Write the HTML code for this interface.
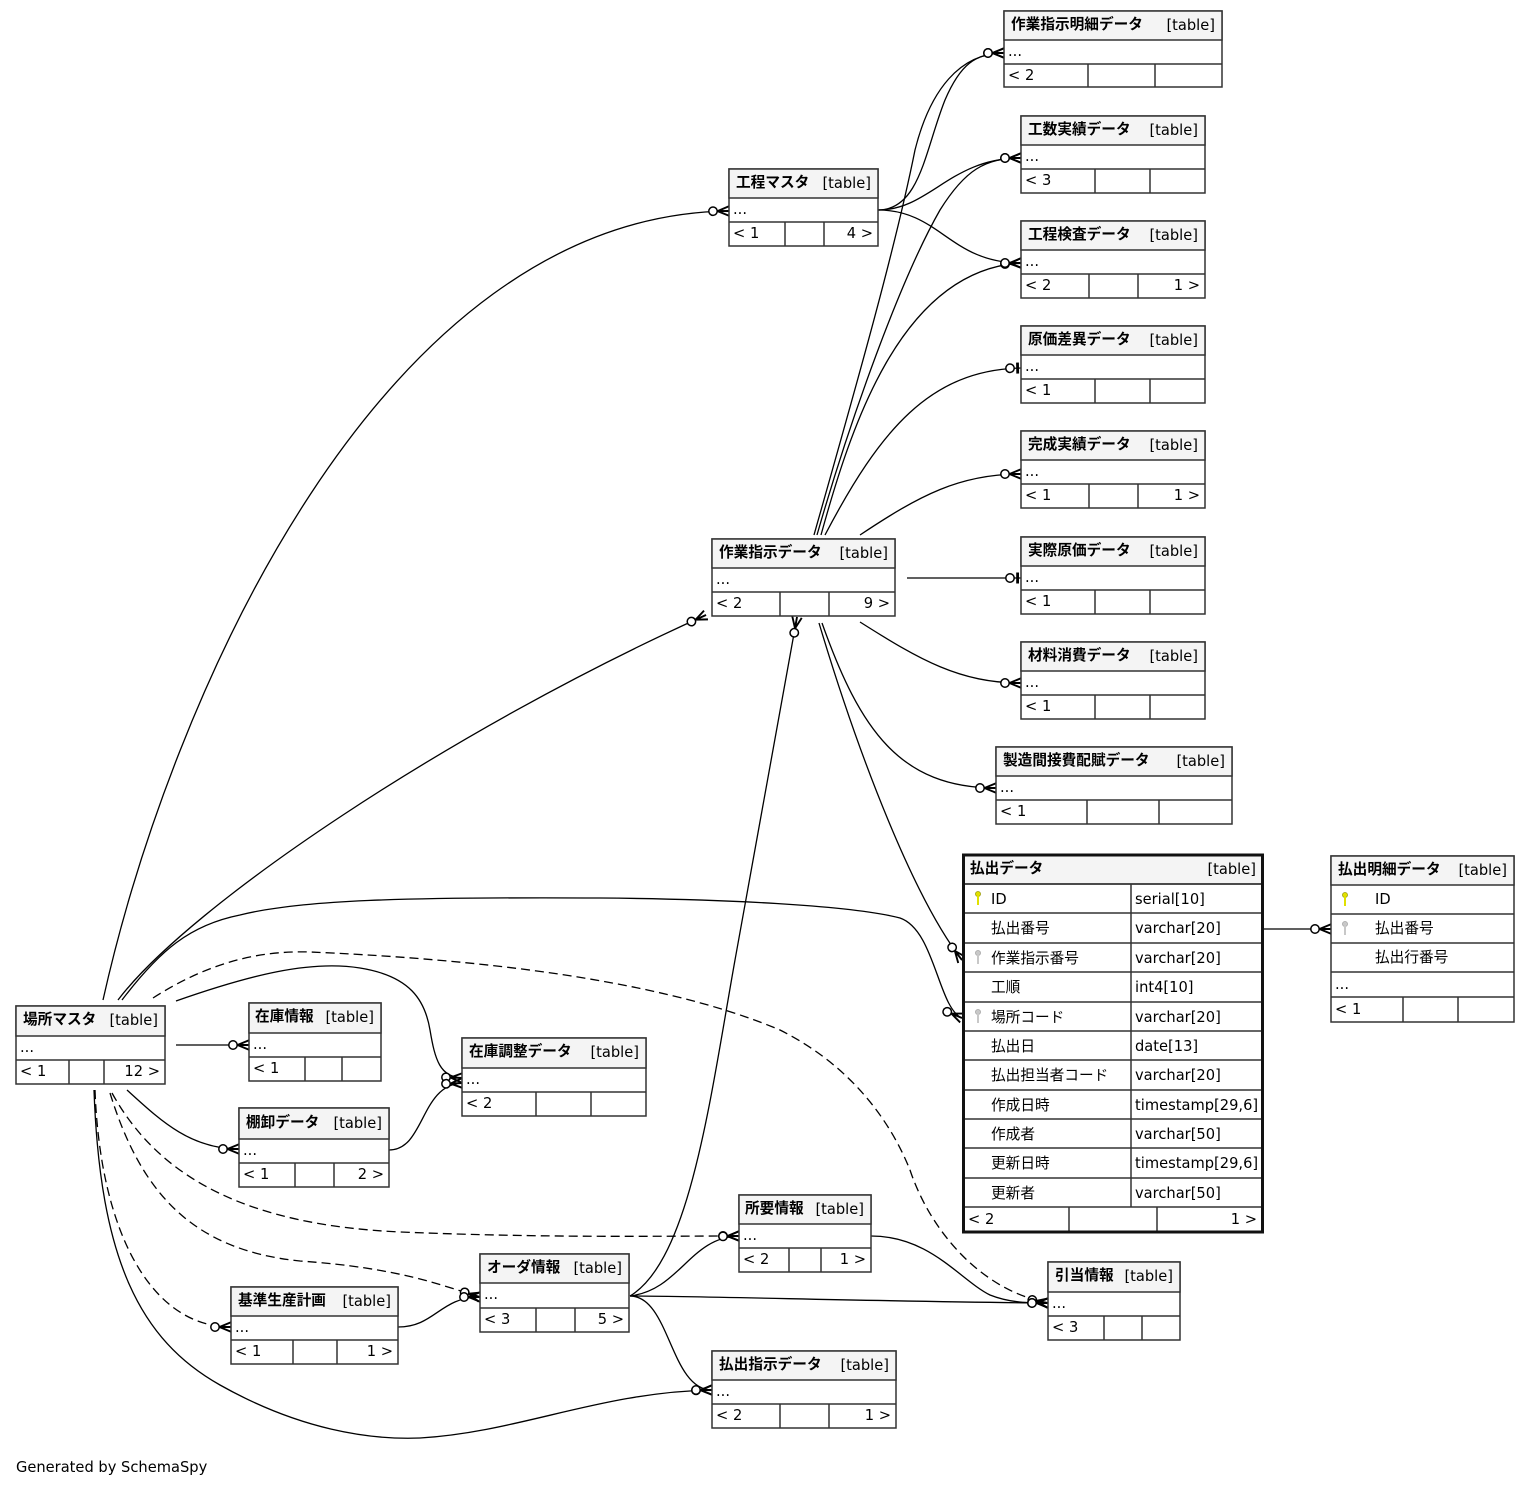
<!DOCTYPE html>
<html><head><meta charset="utf-8"><style>
html,body{margin:0;padding:0;background:#fff;}
svg{display:block;}
text{font-family:"DejaVu Sans","Noto Sans CJK JP",sans-serif;font-size:11pt;fill:#000;}
.b{font-weight:bold;}
.e{text-anchor:end;}
.tb{fill:#fff;stroke:#333;stroke-width:1.5;}
.hd{fill:#f4f4f4;stroke:#333;stroke-width:1.5;}
.tk{fill:none;stroke:#111;stroke-width:3;}
line{stroke:#333;stroke-width:1.5;}
.ed{fill:none;stroke:#000;stroke-width:1.3;}
.da{stroke-dasharray:9,5;}
</style></head><body>
<svg xmlns="http://www.w3.org/2000/svg" width="1531" height="1487" viewBox="0 0 1531 1487">
<defs>
<marker id="cf" viewBox="-24 -8 26 16" refX="0" refY="0" markerWidth="26" markerHeight="16" markerUnits="userSpaceOnUse" orient="auto" overflow="visible">
<path d="M-11.5,0L0,-4.8M-11.5,0L0,0M-11.5,0L0,4.8" fill="none" stroke="#000" stroke-width="1.9"/>
<circle cx="-16" cy="0" r="4.2" fill="#fff" stroke="#000" stroke-width="1.5"/>
</marker>
<marker id="to" viewBox="-24 -8 26 16" refX="0" refY="0" markerWidth="26" markerHeight="16" markerUnits="userSpaceOnUse" orient="auto" overflow="visible">
<rect x="-4.8" y="-5.5" width="2.8" height="11" fill="#000"/>
<circle cx="-11" cy="0" r="4.2" fill="#fff" stroke="#000" stroke-width="1.5"/>
</marker>
</defs>
<rect x="0" y="0" width="1531" height="1487" fill="#fff"/>

<!-- edges -->
<g>
<path class="ed" marker-end="url(#cf)" d="M103,1000 C170,700 380,215 729,211"/>
<path class="ed" marker-end="url(#cf)" d="M118,1000 C190,905 450,730 706,615"/>
<path class="ed" marker-end="url(#cf)" d="M122,1000 C160,950 190,925 240,915 C300,900 400,897 600,898 C720,899 850,905 900,918 C935,930 938,1008 962,1018"/>
<path class="ed da" marker-end="url(#cf)" d="M153,998 C200,968 250,950 310,952 C450,958 650,975 780,1030 C850,1065 890,1120 910,1170 C930,1230 980,1290 1048,1303"/>
<path class="ed" marker-end="url(#cf)" d="M176,1001 C250,975 310,960 360,968 C410,976 425,1000 430,1030 C435,1060 440,1077 462,1078"/>
<path class="ed" marker-end="url(#cf)" d="M176,1045 L249,1045"/>
<path class="ed" marker-end="url(#cf)" d="M127,1090 C160,1120 190,1149 239,1149"/>
<path class="ed" marker-end="url(#cf)" d="M389,1150 C425,1150 420,1085 462,1083"/>
<path class="ed da" marker-end="url(#cf)" d="M112,1093 C160,1180 250,1225 400,1232 C550,1238 650,1236 739,1236"/>
<path class="ed da" marker-end="url(#cf)" d="M110,1093 C140,1190 190,1250 300,1261 C400,1268 440,1285 480,1297"/>
<path class="ed da" marker-end="url(#cf)" d="M95,1090 C100,1230 150,1327 231,1327"/>
<path class="ed" marker-end="url(#cf)" d="M94,1090 C100,1260 140,1340 220,1385 C300,1430 370,1440 420,1438 C520,1432 600,1392 712,1390"/>
<path class="ed" marker-end="url(#cf)" d="M398,1327 C435,1327 440,1297 480,1297"/>
<path class="ed" marker-end="url(#cf)" d="M630,1296 C690,1260 710,1100 735,960 C760,820 786,680 797,617"/>
<path class="ed" marker-end="url(#cf)" d="M630,1296 C680,1290 690,1237 739,1236"/>
<path class="ed" marker-end="url(#cf)" d="M630,1296 C700,1296 900,1302 1048,1303"/>
<path class="ed" marker-end="url(#cf)" d="M630,1296 C670,1296 670,1390 712,1390"/>
<path class="ed" marker-end="url(#cf)" d="M871,1236 C930,1236 960,1280 990,1295 C1010,1303 1030,1303 1048,1303"/>
<path class="ed" marker-end="url(#cf)" d="M814,535 C855,390 895,250 915,150 C930,90 960,53 1004,53"/>
<path class="ed" marker-end="url(#cf)" d="M817,535 C850,420 900,280 940,210 C965,170 985,158 1021,158"/>
<path class="ed" marker-end="url(#cf)" d="M821,535 C850,430 900,270 1021,263"/>
<path class="ed" marker-end="url(#to)" d="M825,535 C880,430 930,370 1021,368"/>
<path class="ed" marker-end="url(#cf)" d="M860,535 C920,495 960,474 1021,474"/>
<path class="ed" marker-end="url(#to)" d="M907,578 L1021,578"/>
<path class="ed" marker-end="url(#cf)" d="M860,622 C920,660 960,683 1021,683"/>
<path class="ed" marker-end="url(#cf)" d="M822,623 C860,730 900,788 996,788"/>
<path class="ed" marker-end="url(#cf)" d="M819,623 C860,760 915,900 962,960"/>
<path class="ed" marker-end="url(#cf)" d="M878,210 C920,210 925,150 945,100 C960,65 975,53 1004,53"/>
<path class="ed" marker-end="url(#cf)" d="M878,210 C930,210 950,158 1021,158"/>
<path class="ed" marker-end="url(#cf)" d="M878,210 C940,210 950,263 1021,263"/>
<path class="ed" marker-end="url(#cf)" d="M1264,929 L1331,929"/>
</g>

<!-- T1 作業指示明細データ -->
<g>
<rect class="tb" x="1004" y="11" width="218" height="76"/>
<rect class="hd" x="1004" y="11" width="218" height="29"/>
<line x1="1004" y1="64" x2="1222" y2="64"/>
<line x1="1088" y1="64" x2="1088" y2="87"/>
<line x1="1155" y1="64" x2="1155" y2="87"/>
<text class="b" x="1011" y="29">作業指示明細データ</text>
<text class="e" x="1215" y="30">[table]</text>
<text x="1008" y="56">...</text>
<text x="1008" y="80">&lt; 2</text>
</g>

<!-- T2 工数実績データ -->
<g>
<rect class="tb" x="1021" y="116" width="184" height="77"/>
<rect class="hd" x="1021" y="116" width="184" height="29"/>
<line x1="1021" y1="169" x2="1205" y2="169"/>
<line x1="1095" y1="169" x2="1095" y2="193"/>
<line x1="1150" y1="169" x2="1150" y2="193"/>
<text class="b" x="1028" y="134">工数実績データ</text>
<text class="e" x="1198" y="135">[table]</text>
<text x="1025" y="161">...</text>
<text x="1025" y="185">&lt; 3</text>
</g>

<!-- T3 工程検査データ -->
<g>
<rect class="tb" x="1021" y="221" width="184" height="77"/>
<rect class="hd" x="1021" y="221" width="184" height="29"/>
<line x1="1021" y1="274" x2="1205" y2="274"/>
<line x1="1089" y1="274" x2="1089" y2="298"/>
<line x1="1138" y1="274" x2="1138" y2="298"/>
<text class="b" x="1028" y="239">工程検査データ</text>
<text class="e" x="1198" y="240">[table]</text>
<text x="1025" y="266">...</text>
<text x="1025" y="290">&lt; 2</text>
<text class="e" x="1200" y="290">1 &gt;</text>
</g>

<!-- T4 原価差異データ -->
<g>
<rect class="tb" x="1021" y="326" width="184" height="77"/>
<rect class="hd" x="1021" y="326" width="184" height="29"/>
<line x1="1021" y1="379" x2="1205" y2="379"/>
<line x1="1095" y1="379" x2="1095" y2="403"/>
<line x1="1150" y1="379" x2="1150" y2="403"/>
<text class="b" x="1028" y="344">原価差異データ</text>
<text class="e" x="1198" y="345">[table]</text>
<text x="1025" y="371">...</text>
<text x="1025" y="395">&lt; 1</text>
</g>

<!-- T5 完成実績データ -->
<g>
<rect class="tb" x="1021" y="431" width="184" height="77"/>
<rect class="hd" x="1021" y="431" width="184" height="29"/>
<line x1="1021" y1="484" x2="1205" y2="484"/>
<line x1="1089" y1="484" x2="1089" y2="508"/>
<line x1="1138" y1="484" x2="1138" y2="508"/>
<text class="b" x="1028" y="449">完成実績データ</text>
<text class="e" x="1198" y="450">[table]</text>
<text x="1025" y="476">...</text>
<text x="1025" y="500">&lt; 1</text>
<text class="e" x="1200" y="500">1 &gt;</text>
</g>

<!-- T6 実際原価データ -->
<g>
<rect class="tb" x="1021" y="537" width="184" height="77"/>
<rect class="hd" x="1021" y="537" width="184" height="29"/>
<line x1="1021" y1="590" x2="1205" y2="590"/>
<line x1="1095" y1="590" x2="1095" y2="614"/>
<line x1="1150" y1="590" x2="1150" y2="614"/>
<text class="b" x="1028" y="555">実際原価データ</text>
<text class="e" x="1198" y="556">[table]</text>
<text x="1025" y="582">...</text>
<text x="1025" y="606">&lt; 1</text>
</g>

<!-- T7 材料消費データ -->
<g>
<rect class="tb" x="1021" y="642" width="184" height="77"/>
<rect class="hd" x="1021" y="642" width="184" height="29"/>
<line x1="1021" y1="695" x2="1205" y2="695"/>
<line x1="1095" y1="695" x2="1095" y2="719"/>
<line x1="1150" y1="695" x2="1150" y2="719"/>
<text class="b" x="1028" y="660">材料消費データ</text>
<text class="e" x="1198" y="661">[table]</text>
<text x="1025" y="687">...</text>
<text x="1025" y="711">&lt; 1</text>
</g>

<!-- T8 製造間接費配賦データ -->
<g>
<rect class="tb" x="996" y="747" width="236" height="77"/>
<rect class="hd" x="996" y="747" width="236" height="29"/>
<line x1="996" y1="800" x2="1232" y2="800"/>
<line x1="1087" y1="800" x2="1087" y2="824"/>
<line x1="1159" y1="800" x2="1159" y2="824"/>
<text class="b" x="1003" y="765">製造間接費配賦データ</text>
<text class="e" x="1225" y="766">[table]</text>
<text x="1000" y="792">...</text>
<text x="1000" y="816">&lt; 1</text>
</g>

<!-- T9 工程マスタ -->
<g>
<rect class="tb" x="729" y="169" width="149" height="77"/>
<rect class="hd" x="729" y="169" width="149" height="29"/>
<line x1="729" y1="222" x2="878" y2="222"/>
<line x1="785" y1="222" x2="785" y2="246"/>
<line x1="824" y1="222" x2="824" y2="246"/>
<text class="b" x="736" y="187">工程マスタ</text>
<text class="e" x="871" y="188">[table]</text>
<text x="733" y="214">...</text>
<text x="733" y="238">&lt; 1</text>
<text class="e" x="873" y="238">4 &gt;</text>
</g>

<!-- T10 作業指示データ -->
<g>
<rect class="tb" x="712" y="539" width="183" height="77"/>
<rect class="hd" x="712" y="539" width="183" height="29"/>
<line x1="712" y1="592" x2="895" y2="592"/>
<line x1="780" y1="592" x2="780" y2="616"/>
<line x1="829" y1="592" x2="829" y2="616"/>
<text class="b" x="719" y="557">作業指示データ</text>
<text class="e" x="888" y="558">[table]</text>
<text x="716" y="584">...</text>
<text x="716" y="608">&lt; 2</text>
<text class="e" x="890" y="608">9 &gt;</text>
</g>

<!-- T13 場所マスタ -->
<g>
<rect class="tb" x="16" y="1006" width="149" height="78"/>
<rect class="hd" x="16" y="1006" width="149" height="30"/>
<line x1="16" y1="1060" x2="165" y2="1060"/>
<line x1="69" y1="1060" x2="69" y2="1084"/>
<line x1="104" y1="1060" x2="104" y2="1084"/>
<text class="b" x="23" y="1024">場所マスタ</text>
<text class="e" x="158" y="1025">[table]</text>
<text x="20" y="1052">...</text>
<text x="20" y="1076">&lt; 1</text>
<text class="e" x="160" y="1076">12 &gt;</text>
</g>

<!-- T14 在庫情報 -->
<g>
<rect class="tb" x="249" y="1003" width="132" height="78"/>
<rect class="hd" x="249" y="1003" width="132" height="30"/>
<line x1="249" y1="1057" x2="381" y2="1057"/>
<line x1="305" y1="1057" x2="305" y2="1081"/>
<line x1="342" y1="1057" x2="342" y2="1081"/>
<text class="b" x="255" y="1021">在庫情報</text>
<text class="e" x="374" y="1022">[table]</text>
<text x="253" y="1049">...</text>
<text x="253" y="1073">&lt; 1</text>
</g>

<!-- T15 棚卸データ -->
<g>
<rect class="tb" x="239" y="1108" width="150" height="79"/>
<rect class="hd" x="239" y="1108" width="150" height="31"/>
<line x1="239" y1="1163" x2="389" y2="1163"/>
<line x1="295" y1="1163" x2="295" y2="1187"/>
<line x1="334" y1="1163" x2="334" y2="1187"/>
<text class="b" x="246" y="1127">棚卸データ</text>
<text class="e" x="382" y="1128">[table]</text>
<text x="243" y="1155">...</text>
<text x="243" y="1179">&lt; 1</text>
<text class="e" x="384" y="1179">2 &gt;</text>
</g>

<!-- T16 在庫調整データ -->
<g>
<rect class="tb" x="462" y="1038" width="184" height="78"/>
<rect class="hd" x="462" y="1038" width="184" height="30"/>
<line x1="462" y1="1092" x2="646" y2="1092"/>
<line x1="536" y1="1092" x2="536" y2="1116"/>
<line x1="591" y1="1092" x2="591" y2="1116"/>
<text class="b" x="469" y="1056">在庫調整データ</text>
<text class="e" x="639" y="1057">[table]</text>
<text x="466" y="1084">...</text>
<text x="466" y="1108">&lt; 2</text>
</g>

<!-- T17 所要情報 -->
<g>
<rect class="tb" x="739" y="1195" width="132" height="77"/>
<rect class="hd" x="739" y="1195" width="132" height="29"/>
<line x1="739" y1="1248" x2="871" y2="1248"/>
<line x1="789" y1="1248" x2="789" y2="1272"/>
<line x1="821" y1="1248" x2="821" y2="1272"/>
<text class="b" x="745" y="1213">所要情報</text>
<text class="e" x="864" y="1214">[table]</text>
<text x="743" y="1240">...</text>
<text x="743" y="1264">&lt; 2</text>
<text class="e" x="866" y="1264">1 &gt;</text>
</g>

<!-- T18 引当情報 -->
<g>
<rect class="tb" x="1048" y="1262" width="132" height="78"/>
<rect class="hd" x="1048" y="1262" width="132" height="30"/>
<line x1="1048" y1="1316" x2="1180" y2="1316"/>
<line x1="1104" y1="1316" x2="1104" y2="1340"/>
<line x1="1142" y1="1316" x2="1142" y2="1340"/>
<text class="b" x="1055" y="1280">引当情報</text>
<text class="e" x="1173" y="1281">[table]</text>
<text x="1052" y="1308">...</text>
<text x="1052" y="1332">&lt; 3</text>
</g>

<!-- T19 払出指示データ -->
<g>
<rect class="tb" x="712" y="1351" width="184" height="77"/>
<rect class="hd" x="712" y="1351" width="184" height="29"/>
<line x1="712" y1="1404" x2="896" y2="1404"/>
<line x1="780" y1="1404" x2="780" y2="1428"/>
<line x1="829" y1="1404" x2="829" y2="1428"/>
<text class="b" x="719" y="1369">払出指示データ</text>
<text class="e" x="889" y="1370">[table]</text>
<text x="716" y="1396">...</text>
<text x="716" y="1420">&lt; 2</text>
<text class="e" x="891" y="1420">1 &gt;</text>
</g>

<!-- T20 オーダ情報 -->
<g>
<rect class="tb" x="480" y="1254" width="149" height="78"/>
<rect class="hd" x="480" y="1254" width="149" height="29"/>
<line x1="480" y1="1308" x2="629" y2="1308"/>
<line x1="536" y1="1308" x2="536" y2="1332"/>
<line x1="575" y1="1308" x2="575" y2="1332"/>
<text class="b" x="487" y="1272">オーダ情報</text>
<text class="e" x="622" y="1273">[table]</text>
<text x="484" y="1299">...</text>
<text x="484" y="1324">&lt; 3</text>
<text class="e" x="624" y="1324">5 &gt;</text>
</g>

<!-- T21 基準生産計画 -->
<g>
<rect class="tb" x="231" y="1287" width="167" height="77"/>
<rect class="hd" x="231" y="1287" width="167" height="29"/>
<line x1="231" y1="1340" x2="398" y2="1340"/>
<line x1="293" y1="1340" x2="293" y2="1364"/>
<line x1="337" y1="1340" x2="337" y2="1364"/>
<text class="b" x="238" y="1305">基準生産計画</text>
<text class="e" x="391" y="1306">[table]</text>
<text x="235" y="1332">...</text>
<text x="235" y="1356">&lt; 1</text>
<text class="e" x="393" y="1356">1 &gt;</text>
</g>

<!-- 払出データ (focus table) -->
<g>
<rect x="963.5" y="855" width="299" height="377" fill="#fff"/>
<rect class="hd" x="963.5" y="855" width="299" height="29"/>
<line x1="963" y1="884" x2="1263" y2="884"/>
<line x1="963" y1="913" x2="1263" y2="913"/>
<line x1="963" y1="943" x2="1263" y2="943"/>
<line x1="963" y1="972" x2="1263" y2="972"/>
<line x1="963" y1="1002" x2="1263" y2="1002"/>
<line x1="963" y1="1031" x2="1263" y2="1031"/>
<line x1="963" y1="1060" x2="1263" y2="1060"/>
<line x1="963" y1="1090" x2="1263" y2="1090"/>
<line x1="963" y1="1119" x2="1263" y2="1119"/>
<line x1="963" y1="1148" x2="1263" y2="1148"/>
<line x1="963" y1="1178" x2="1263" y2="1178"/>
<line x1="963" y1="1207" x2="1263" y2="1207"/>
<line x1="1131" y1="884" x2="1131" y2="1207"/>
<line x1="1069" y1="1207" x2="1069" y2="1232"/>
<line x1="1157" y1="1207" x2="1157" y2="1232"/>
<rect class="tk" x="963.5" y="855" width="299" height="377"/>
<text class="b" x="970" y="873">払出データ</text>
<text class="e" x="1256" y="874">[table]</text>
<g>
<circle cx="978" cy="894" r="2.6" fill="#e0e000" stroke="#8a8a00" stroke-width="0.6"/>
<rect x="977" y="896" width="2" height="9" fill="#e0e000"/>
<circle cx="978" cy="953" r="2.6" fill="#c8c8c8" stroke="#999" stroke-width="0.6"/>
<rect x="977" y="955" width="2" height="9" fill="#c8c8c8"/>
<circle cx="978" cy="1012" r="2.6" fill="#c8c8c8" stroke="#999" stroke-width="0.6"/>
<rect x="977" y="1014" width="2" height="9" fill="#c8c8c8"/>
</g>
<text x="991" y="904">ID</text><text x="1135" y="904">serial[10]</text>
<text x="991" y="933">払出番号</text><text x="1135" y="933">varchar[20]</text>
<text x="991" y="963">作業指示番号</text><text x="1135" y="963">varchar[20]</text>
<text x="991" y="992">工順</text><text x="1135" y="992">int4[10]</text>
<text x="991" y="1022">場所コード</text><text x="1135" y="1022">varchar[20]</text>
<text x="991" y="1051">払出日</text><text x="1135" y="1051">date[13]</text>
<text x="991" y="1080">払出担当者コード</text><text x="1135" y="1080">varchar[20]</text>
<text x="991" y="1110">作成日時</text><text x="1135" y="1110">timestamp[29,6]</text>
<text x="991" y="1139">作成者</text><text x="1135" y="1139">varchar[50]</text>
<text x="991" y="1168">更新日時</text><text x="1135" y="1168">timestamp[29,6]</text>
<text x="991" y="1198">更新者</text><text x="1135" y="1198">varchar[50]</text>
<text x="968" y="1224">&lt; 2</text>
<text class="e" x="1257" y="1224">1 &gt;</text>
</g>

<!-- 払出明細データ -->
<g>
<rect class="tb" x="1331" y="856" width="183" height="166"/>
<rect class="hd" x="1331" y="856" width="183" height="29"/>
<line x1="1331" y1="914" x2="1514" y2="914"/>
<line x1="1331" y1="943" x2="1514" y2="943"/>
<line x1="1331" y1="972" x2="1514" y2="972"/>
<line x1="1331" y1="997" x2="1514" y2="997"/>
<line x1="1403" y1="997" x2="1403" y2="1022"/>
<line x1="1458" y1="997" x2="1458" y2="1022"/>
<text class="b" x="1338" y="874">払出明細データ</text>
<text class="e" x="1507" y="875">[table]</text>
<circle cx="1345" cy="895" r="2.6" fill="#e0e000" stroke="#8a8a00" stroke-width="0.6"/>
<rect x="1344" y="897" width="2" height="9" fill="#e0e000"/>
<circle cx="1345" cy="924" r="2.6" fill="#c8c8c8" stroke="#999" stroke-width="0.6"/>
<rect x="1344" y="926" width="2" height="9" fill="#c8c8c8"/>
<text x="1375" y="904">ID</text>
<text x="1375" y="933">払出番号</text>
<text x="1375" y="962">払出行番号</text>
<text x="1335" y="989">...</text>
<text x="1335" y="1014">&lt; 1</text>
</g>

<text x="16" y="1472">Generated by SchemaSpy</text>
</svg>
</body></html>
